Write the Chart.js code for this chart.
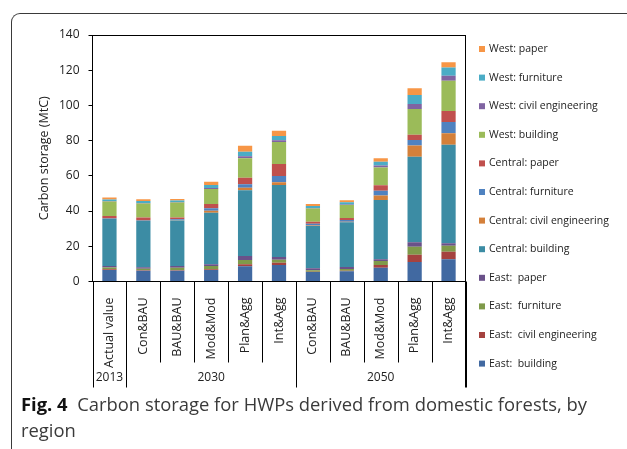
<!DOCTYPE html>
<html>
<head>
<meta charset="utf-8">
<script src="https://cdn.jsdelivr.net/npm/chart.js@4/dist/chart.umd.min.js"></script>
<style>
  html, body { margin: 0; padding: 0; background: #fff; }
  body { width: 627px; height: 449px; position: relative; overflow: hidden; font-family: "Open Sans", sans-serif; }
  #frame { position: absolute; left: 11px; top: 13px; width: 640px; height: 460px;
           border-left: 1px solid #3a3a3a; border-top: 1px solid #3a3a3a; border-top-left-radius: 9px; }
  #wrap { position: absolute; left: 0; top: 0; width: 627px; height: 392px; }
  #caption { position: absolute; left: 21px; top: 391px; font-size: 18.4px; line-height: 26px; color: #3a3a3a; white-space: nowrap; }
  #caption b { color: #111; }
</style>
</head>
<body>
<div id="frame"></div>
<div id="wrap"><canvas id="c" width="627" height="392"></canvas></div>
<div id="caption"><b>Fig. 4</b>&nbsp; Carbon storage for HWPs derived from domestic forests, by<br>region</div>
<script>
// Scenario categories (bottom level) and the year groups spanning them
const categories = ['Actual value', 'Con&BAU', 'BAU&BAU', 'Mod&Mod', 'Plan&Agg', 'Int&Agg',
                    'Con&BAU', 'BAU&BAU', 'Mod&Mod', 'Plan&Agg', 'Int&Agg'];
const yearLabels = ['2013', '2030', '2050'];
const yearSpans = [1, 5, 5];
const yTicks = [0, 20, 40, 60, 80, 100, 120, 140];

// Carbon storage (MtC) by region and product type
const eastBuilding     = [6.5, 6.1, 6.1, 6.5, 8.6, 9.4, 5.4, 5.8, 7.8, 11.1, 12.6];
const eastCivil        = [0.4, 0.3, 0.3, 0.4, 1.2, 1.3, 0.2, 0.3, 1.6, 4.1, 4.3];
const eastFurniture    = [1.1, 0.9, 1.4, 1.9, 2.4, 1.7, 0.8, 1.0, 2.2, 4.6, 3.4];
const eastPaper        = [0.8, 0.8, 1.0, 1.0, 2.3, 1.5, 1.1, 1.1, 1.0, 2.5, 1.4];
const centralBuilding  = [26.7, 26.2, 25.8, 29.3, 37.3, 40.9, 24.0, 25.5, 33.7, 48.6, 56.0];
const centralCivil     = [0.2, 0.2, 0.2, 1.1, 1.5, 1.5, 0.3, 0.3, 2.5, 6.4, 6.5];
const centralFurniture = [0.4, 0.4, 0.5, 1.4, 1.9, 3.6, 1.0, 0.9, 2.7, 3.1, 6.4];
const centralPaper     = [1.1, 1.4, 1.1, 2.4, 3.7, 6.8, 1.2, 1.2, 3.1, 3.0, 6.2];
const westBuilding     = [8.2, 8.0, 8.4, 8.6, 11.1, 12.5, 7.4, 7.3, 10.2, 14.6, 17.2];
const westCivil        = [0.3, 0.3, 0.3, 0.5, 1.1, 1.0, 0.3, 0.4, 1.1, 2.8, 2.9];
const westFurniture    = [0.9, 1.1, 0.9, 1.7, 2.6, 2.4, 1.2, 1.2, 2.1, 5.1, 4.7];
const westPaper        = [1.1, 1.0, 0.8, 1.9, 3.4, 3.0, 1.1, 1.1, 2.0, 3.8, 2.9];

const series = [
  ['East:  building', eastBuilding, '#4169a1'],
  ['East:  civil engineering', eastCivil, '#a5423f'],
  ['East:  furniture', eastFurniture, '#7f9a4a'],
  ['East:  paper', eastPaper, '#6a5189'],
  ['Central: building', centralBuilding, '#3c8ca4'],
  ['Central: civil engineering', centralCivil, '#d4803a'],
  ['Central: furniture', centralFurniture, '#4f82c0'],
  ['Central: paper', centralPaper, '#c0504d'],
  ['West: building', westBuilding, '#9bbb59'],
  ['West: civil engineering', westCivil, '#8064a2'],
  ['West: furniture', westFurniture, '#4bacc6'],
  ['West: paper', westPaper, '#f79646']
];

const FONT = '"Open Sans", sans-serif';
const TABLE_ROW = 81;     // depth of the scenario row below the axis
const TABLE_BOTTOM = 106; // depth of the year row below the axis

// Draws the plot frame, the two-level category table and the legend
const decorations = {
  id: 'decorations',
  afterDraw(chart) {
    const ctx = chart.ctx;
    const area = chart.chartArea;
    const xs = chart.scales.x;
    const n = categories.length;
    const half = (xs.getPixelForValue(1) - xs.getPixelForValue(0)) / 2;
    const edge = i => xs.getPixelForValue(i) - half;

    ctx.save();
    ctx.strokeStyle = '#000';
    ctx.lineWidth = 1;
    ctx.beginPath();
    ctx.moveTo(area.left, area.top + 0.5);
    ctx.lineTo(area.right, area.top + 0.5);
    ctx.moveTo(Math.round(area.right) - 0.5, area.top);
    ctx.lineTo(Math.round(area.right) - 0.5, area.bottom + TABLE_BOTTOM);
    ctx.stroke();

    // group boundaries reach down through the year row
    const groupEdges = new Set([0]);
    let acc = 0;
    yearSpans.forEach(s => { acc += s; groupEdges.add(acc); });
    ctx.beginPath();
    for (let i = 0; i <= n; i++) {
      const x = Math.round(edge(i)) + 0.5;
      const depth = groupEdges.has(i) ? TABLE_BOTTOM : TABLE_ROW;
      ctx.moveTo(x, area.bottom);
      ctx.lineTo(x, area.bottom + depth);
    }
    ctx.stroke();

    ctx.fillStyle = '#222';
    ctx.font = '12px ' + FONT;
    ctx.textAlign = 'center';
    ctx.textBaseline = 'middle';
    let start = 0;
    yearLabels.forEach((lab, k) => {
      const end = start + yearSpans[k];
      const cx = (edge(start) + edge(end)) / 2;
      ctx.fillText(lab, cx, area.bottom + 96);
      start = end;
    });

    // legend, newest series on top
    ctx.font = '10.5px ' + FONT;
    ctx.textAlign = 'left';
    const lx = area.right + 13.5;
    const ds = chart.data.datasets;
    for (let i = ds.length - 1, row = 0; i >= 0; i--, row++) {
      const cy = 49 + row * 28.6;
      ctx.fillStyle = ds[i].backgroundColor;
      ctx.fillRect(lx, cy - 3, 6, 6);
      ctx.fillStyle = '#222';
      ctx.fillText(ds[i].label, lx + 10, cy);
    }
    ctx.restore();
  }
};

new Chart(document.getElementById('c'), {
  type: 'bar',
  data: {
    labels: categories,
    datasets: series.map(([label, data, color]) => ({
      label, data, backgroundColor: color, borderWidth: 0,
      categoryPercentage: 1, barPercentage: 0.42
    }))
  },
  options: {
    responsive: false,
    animation: false,
    devicePixelRatio: 1,
    layout: { padding: { left: 0, top: 35, right: 161.5, bottom: 0 } },
    plugins: { legend: { display: false }, tooltip: { enabled: false } },
    scales: {
      x: {
        stacked: true,
        offset: true,
        grid: { display: false },
        border: { display: true, color: '#000', width: 1 },
        ticks: { autoSkip: false, minRotation: 90, maxRotation: 90, padding: 8,
                 color: '#222', font: { family: FONT, size: 12.5 } },
        afterFit: s => { s.height = 392 - 281.5; }
      },
      y: {
        stacked: true,
        min: 0, max: 140,
        afterBuildTicks: s => { s.ticks = yTicks.map(v => ({ value: v })); },
        grid: { drawOnChartArea: false, drawTicks: true, tickLength: 4, color: '#000' },
        border: { display: true, color: '#000', width: 1 },
        ticks: { padding: 9, color: '#222', font: { family: FONT, size: 12 } },
        title: { display: true, text: 'Carbon storage (MtC)', color: '#222',
                 font: { family: FONT, size: 12.5 }, padding: { top: 36.5 } },
        afterFit: s => { s.width = 92.5; }
      }
    }
  },
  plugins: [decorations]
});
</script>
</body>
</html>
